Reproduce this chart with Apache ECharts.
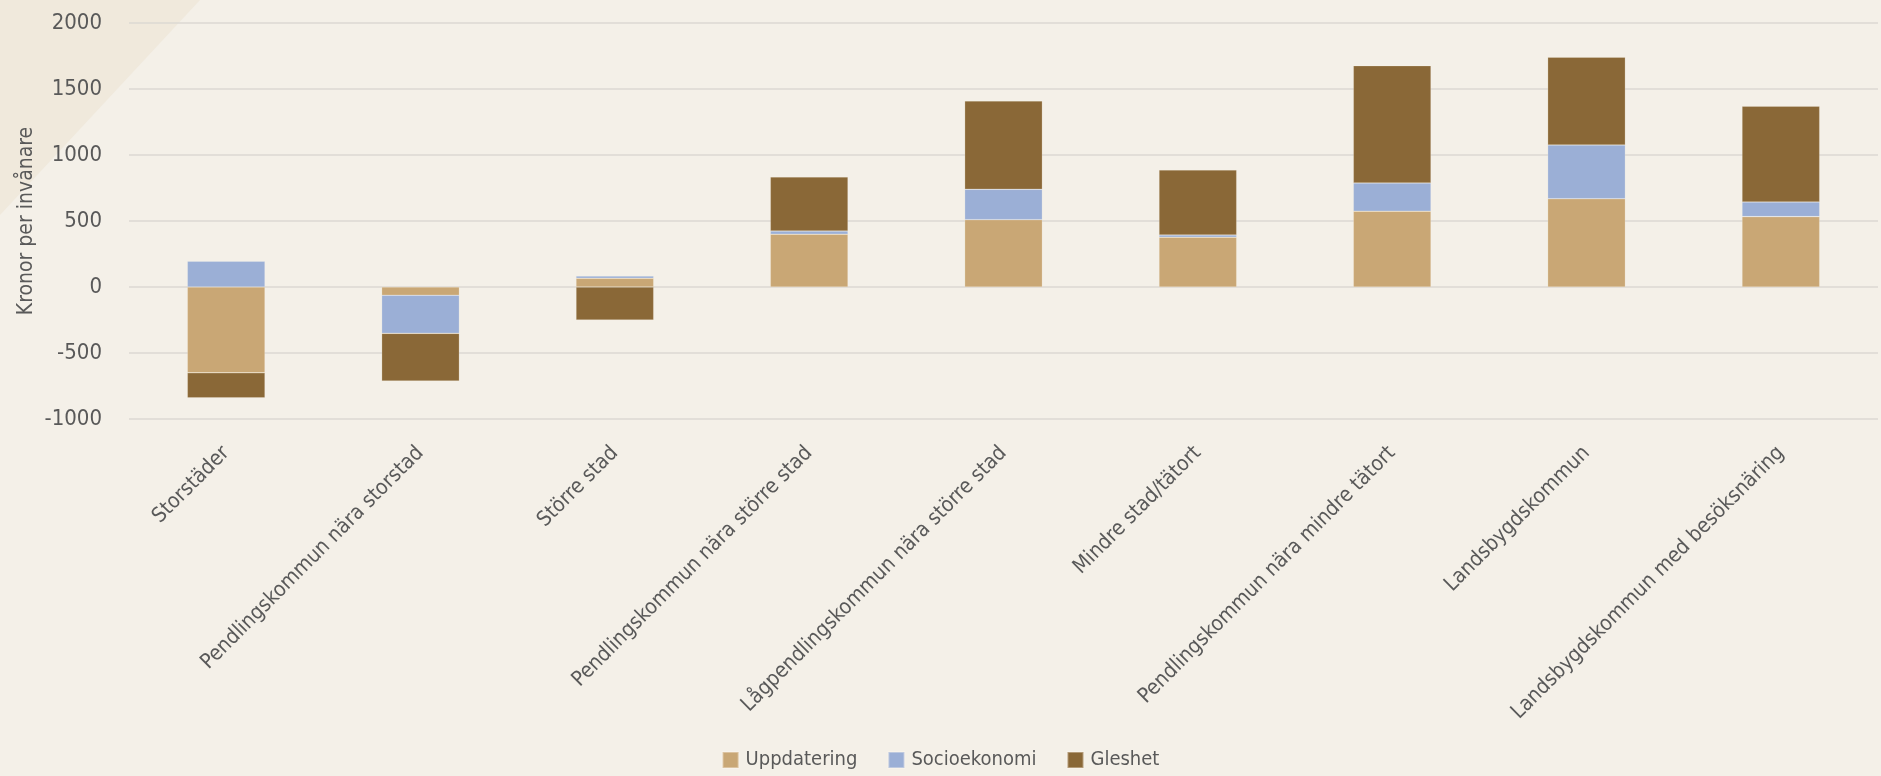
<!DOCTYPE html>
<html>
<head>
<meta charset="utf-8">
<script src="https://cdn.jsdelivr.net/npm/echarts@6/dist/echarts.min.js"></script>
<style>
html,body{margin:0;padding:0;background:#F4F0E8;}
#chart{width:1881px;height:776px;}
</style>
</head>
<body>
<div id="chart"></div>
<script>
const categories = [
  "Storstäder",
  "Pendlingskommun nära storstad",
  "Större stad",
  "Pendlingskommun nära större stad",
  "Lågpendlingskommun nära större stad",
  "Mindre stad/tätort",
  "Pendlingskommun nära mindre tätort",
  "Landsbygdskommun",
  "Landsbygdskommun med besöksnäring"
];
const uppdatering = [-650, -63, 66, 400, 510, 377, 574, 669, 533];
const socioekonomi = [195, -288, 17, 24, 230, 17, 214, 407, 111];
const gleshet = [-190, -361, -250, 410, 670, 493, 889, 665, 726];
const yTicks = { min: -1000, max: 2000, interval: 500 };
const seriesNames = ["Uppdatering", "Socioekonomi", "Gleshet"];

const FONT = "'DejaVu Sans Condensed', 'Liberation Sans Narrow', sans-serif";
const TXT = '#595959';
const colors = ['#C9A775', '#9BAFD6', '#8A6837'];

const chart = echarts.init(document.getElementById('chart'));
function mk(name, data, i) {
  return {
    name: name, type: 'bar', stack: 'total', data: data, barWidth: '40%',
    itemStyle: { color: colors[i], borderColor: 'rgba(255,250,240,0.35)', borderWidth: 0.6 },
    emphasis: { disabled: true }
  };
}
chart.setOption({
  backgroundColor: '#F4F0E8',
  animation: false,
  textStyle: { fontFamily: FONT, color: TXT },
  graphic: [{
    type: 'polygon', z: -10, silent: true,
    shape: { points: [[0,0],[200,0],[0,215]] },
    style: { fill: '#F0E9DC' }
  }],
  grid: { left: 129, right: 3, top: 23, bottom: 357, containLabel: false, outerBoundsMode: 'none' },
  legend: {
    bottom: 1, left: 'center',
    itemWidth: 16, itemHeight: 16, itemGap: 30,
    icon: 'rect',
    textStyle: { fontFamily: FONT, fontSize: 20, color: TXT, padding: [0,0,0,2] },
    data: seriesNames
  },
  xAxis: {
    type: 'category', data: categories,
    axisLine: { show: false, onZero: false },
    axisTick: { show: false },
    axisLabel: { rotate: 45, fontFamily: FONT, fontSize: 21, color: TXT, margin: 31, interval: 0 }
  },
  yAxis: {
    type: 'value', min: yTicks.min, max: yTicks.max, interval: yTicks.interval,
    name: 'Kronor per invånare', nameLocation: 'middle', nameGap: 92, nameRotate: 90,
    nameMoveOverlap: false,
    nameTextStyle: { fontFamily: FONT, fontSize: 21, color: TXT },
    axisLine: { show: false }, axisTick: { show: false },
    axisLabel: { fontFamily: FONT, fontSize: 22, color: TXT, margin: 27, formatter: v => String(v) },
    splitLine: { lineStyle: { color: '#DCD9D3', width: 1.5 } }
  },
  series: [
    mk(seriesNames[0], uppdatering, 0),
    mk(seriesNames[1], socioekonomi, 1),
    mk(seriesNames[2], gleshet, 2)
  ]
});
</script>
</body>
</html>
